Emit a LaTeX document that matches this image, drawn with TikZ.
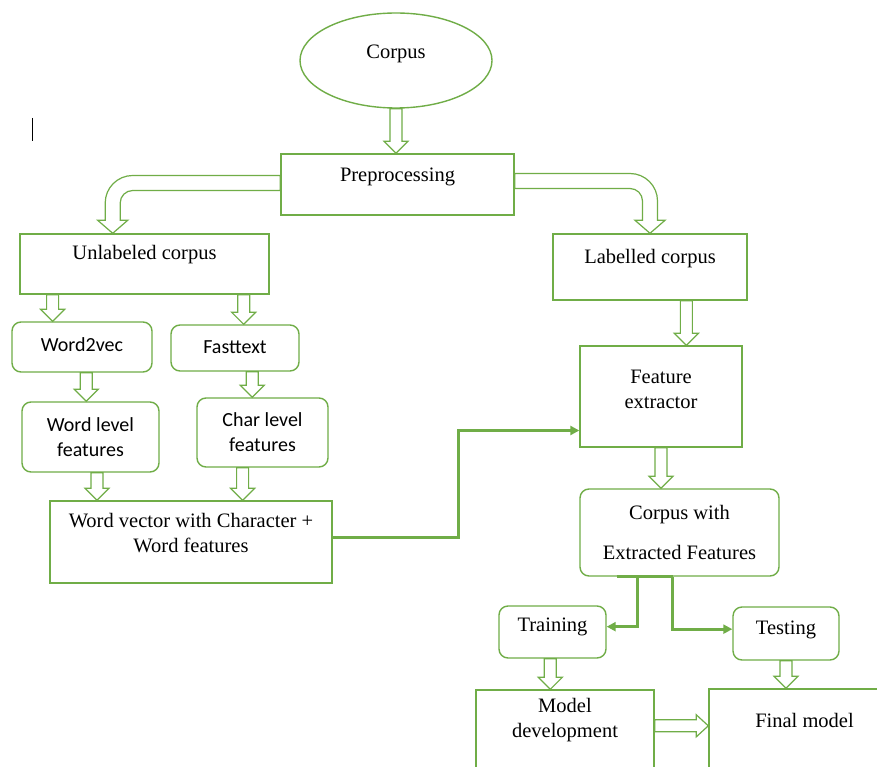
\documentclass[tikz,border=0pt]{standalone}
\usepackage{fontspec}
\setmainfont{Liberation Serif}
\newfontfamily\carlito{Carlito}
\usetikzlibrary{calc,arrows.meta,shapes.geometric}
\definecolor{gr}{HTML}{70AD47}
\newcommand{\HollowDown}[2]{\draw[harrow] let \p1=#1, \p2=#2 in
  (\x1-6pt,\y1) -- (\x1-6pt,\y2+12pt) -- (\x1-12pt,\y2+12pt) -- (\x1,\y2)
  -- (\x1+12pt,\y2+12pt) -- (\x1+6pt,\y2+12pt) -- (\x1+6pt,\y1) -- cycle;}
\newcommand{\HollowRight}[2]{\draw[harrow] let \p1=#1, \p2=#2 in
  (\x1,\y1+6pt) -- (\x2-12pt,\y1+6pt) -- (\x2-12pt,\y1+11pt) -- (\x2,\y1)
  -- (\x2-12pt,\y1-11pt) -- (\x2-12pt,\y1-6pt) -- (\x1,\y1-6pt) -- cycle;}
\begin{document}
\begin{tikzpicture}[x=1pt,y=-1pt,
  box/.style={draw=gr,line width=1.4pt,fill=white,inner sep=0pt},
  rbox/.style={box,rounded corners=9pt},
  every label/.style={font=\fontsize{20.5}{25}\selectfont,align=center,inner sep=0pt,text=black},
  sanslbl/.style={font=\carlito\fontsize{20}{25}\selectfont},
  harrow/.style={draw=gr,line width=1.2pt,fill=white,line join=miter},
  conn/.style={draw=gr,line width=3pt,-{Triangle[length=9pt,width=9pt]}},
  thick green/.style={draw=gr,line width=3pt}]
\useasboundingbox (0,0) rectangle (877,767);
\clip (0,0) rectangle (877,767);
\fill[white] (0,0) rectangle (877,767);

% nodes
\node[box,ellipse,minimum width=192pt,minimum height=95pt,label={[yshift=7pt]center:Corpus}] (corpus) at (396,60.5) {};
\node[box,minimum width=233pt,minimum height=61pt,label={[yshift=7.5pt]center:Preprocessing}] (pre) at (397.5,184.5) {};
\node[box,minimum width=249pt,minimum height=60pt,label={[yshift=9pt]center:Unlabeled corpus}] (unl) at (144.5,264) {};
\node[box,minimum width=194pt,minimum height=66pt,label={[yshift=8pt]center:Labelled corpus}] (lab) at (650,267) {};
\node[rbox,minimum width=140pt,minimum height=50pt,label={[sanslbl,yshift=2pt]center:Word2vec}] (w2v) at (82,347) {};
\node[rbox,minimum width=128pt,minimum height=46pt,label={[sanslbl,yshift=1pt]center:Fasttext}] (ft) at (235,348) {};
\node[rbox,minimum width=137pt,minimum height=70pt,label={[sanslbl]center:Word level\\features}] (wl) at (90.5,437) {};
\node[rbox,minimum width=131pt,minimum height=69pt,label={[sanslbl]center:Char level\\features}] (cl) at (262.5,432.5) {};
\node[box,minimum width=282pt,minimum height=82pt,label={[yshift=8.5pt]center:Word vector with Character +\\Word features}] (wv) at (191,542) {};
\node[box,minimum width=162pt,minimum height=101pt,label={[yshift=7pt]center:Feature\\extractor}] (fe) at (661,396.5) {};
\node[rbox,minimum width=199pt,minimum height=87pt,label={[yshift=0pt]center:Corpus with\\[15pt]Extracted Features}] (cw) at (679.5,532.5) {};
\node[rbox,minimum width=107pt,minimum height=52pt,label={[yshift=5pt]center:Training}] (tr) at (552.5,632) {};
\node[rbox,minimum width=106pt,minimum height=53pt,label={[yshift=3.5pt]center:Testing}] (te) at (786,633.5) {};
\node[box,minimum width=178pt,minimum height=100pt,label={[yshift=20pt]center:Model\\development}] (md) at (565,740) {};
\node[box,minimum width=191pt,minimum height=101pt,label={[yshift=19.5pt]center:Final model}] (fm) at (804.5,739.5) {};

% stray cursor mark
\draw[black,line width=1pt] (32,118) -- (32,141);

% hollow straight arrows
\HollowDown{(corpus.south)}{(pre.north)}
\HollowDown{($(unl.south west)!0.133!(unl.south east)$)}{(w2v.north)}
\HollowDown{($(unl.south west)!0.896!(unl.south east)$)}{(ft.north)}
\HollowDown{($(w2v.south west)!0.53!(w2v.south east)$)}{(wl.north)}
\HollowDown{($(ft.south west)!0.633!(ft.south east)$)}{(cl.north)}
\HollowDown{($(wl.south west)!0.547!(wl.south east)$)}{(wv.north)}
\HollowDown{($(cl.south west)!0.35!(cl.south east)$)}{(wv.north)}
\HollowDown{($(lab.south west)!0.686!(lab.south east)$)}{(fe.north)}
\HollowDown{(fe.south)}{(cw.north)}
\HollowDown{($(tr.south west)!0.48!(tr.south east)$)}{(md.north)}
\HollowDown{(te.south)}{(fm.north)}
\HollowRight{($(md.north east)!0.36!(md.south east)$)}{(fm.west)}

% curved hollow arrows from Preprocessing
\coordinate (ltip) at ($(unl.north west)!0.373!(unl.north east)$);
\draw[harrow] let \p1=(pre.west), \p2=(ltip) in
  (\x1,\y1+9pt) -- (\x2+20pt,\y1+9pt) arc[start angle=90,end angle=180,radius=27.5pt]
  -- (\x2-7.5pt,\y2+13pt) -- (\x2-15pt,\y2+13pt) -- (\x2,\y2) -- (\x2+15pt,\y2+13pt)
  -- (\x2+7.5pt,\y2+13pt) -- (\x2+7.5pt,\y1-18.5pt) arc[start angle=180,end angle=90,radius=12.5pt]
  -- (\x1,\y1-6pt) -- cycle;
\draw[harrow] let \p1=(pre.east), \p2=(lab.north) in
  (\x1,\y1+11pt) -- (\x2-20pt,\y1+11pt) arc[start angle=90,end angle=0,radius=27.5pt]
  -- (\x2+7.5pt,\y2+13pt) -- (\x2+15pt,\y2+13pt) -- (\x2,\y2) -- (\x2-15pt,\y2+13pt)
  -- (\x2-7.5pt,\y2+13pt) -- (\x2-7.5pt,\y1-16.5pt) arc[start angle=0,end angle=90,radius=12.5pt]
  -- (\x1,\y1-4pt) -- cycle;

% thick green connectors
\coordinate (fein) at ($(fe.south west)!0.168!(fe.north west)$);
\draw[conn] ($(wv.north east)!0.45!(wv.south east)$) -- ++(126,0) |- (fein);
\coordinate (s0) at ($(cw.south west)!0.186!(cw.south east)$);
\coordinate (s1) at ($(cw.south west)!0.29!(cw.south east)$);
\coordinate (s2) at ($(cw.south west)!0.467!(cw.south east)$);
\draw[thick green] (s0) -- (s2);
\draw[conn] (s1) |- ($(tr.north east)!0.4!(tr.south east)$);
\draw[conn] (s2) |- ($(te.north west)!0.42!(te.south west)$);
\end{tikzpicture}
\end{document}
